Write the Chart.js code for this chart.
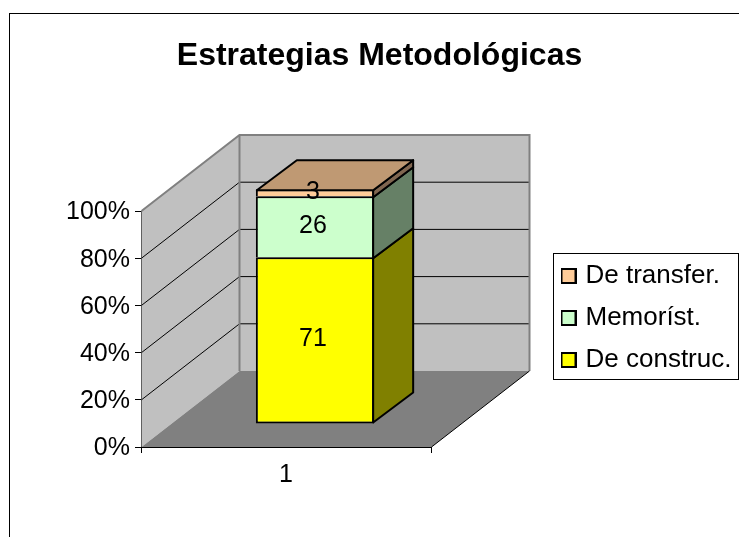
<!DOCTYPE html>
<html>
<head>
<meta charset="utf-8">
<script src="https://cdn.jsdelivr.net/npm/chart.js@4"></script>
<style>
  html, body { margin: 0; padding: 0; background: #fff; overflow: hidden; }
  #chart { display: block; }
</style>
</head>
<body>
<canvas id="chart" width="739" height="537"></canvas>
<script>
const categories = ['1'];
const seriesNames = ['De construc.', 'Memoríst.', 'De transfer.'];
const construc = [71];
const memorist = [26];
const transfer = [3];
const yTicks = [0, 20, 40, 60, 80, 100];

const frontColors = ['#FFFF00', '#CCFFCC', '#FFCC99'];
const sideColors = ['#808000', '#668066', '#806650'];
const topColor = '#BF9973';
const fontName = '"Liberation Sans", Arial, sans-serif';

// depth of the box, and where the bars sit inside it
const wallDx = 98, wallDy = -76;
const barDx = 29, barDy = -23, barSy = 0.995;
const barDepthX = 40, barDepthY = -30;

function poly(ctx, pts, fill, stroke, lw) {
  ctx.beginPath();
  pts.forEach((p, i) => i ? ctx.lineTo(p[0], p[1]) : ctx.moveTo(p[0], p[1]));
  ctx.closePath();
  if (fill) { ctx.fillStyle = fill; ctx.fill(); }
  if (stroke) { ctx.strokeStyle = stroke; ctx.lineWidth = lw; ctx.stroke(); }
}

function makeSwatch(color) {
  const c = document.createElement('canvas');
  c.width = 16;
  c.height = 16;
  const g = c.getContext('2d');
  g.fillStyle = color;
  g.fillRect(1, 1, 14, 14);
  g.strokeStyle = '#000';
  g.lineWidth = 2;
  g.strokeRect(1, 1, 14, 14);
  return c;
}

const box3d = {
  id: 'box3d',
  afterLayout(chart) {
    // title is centred on the whole frame, legend sits in its own box
    chart.titleBlock.left = 20;
    chart.titleBlock.right = 739;
    const lg = chart.legend;
    lg.left = 548.5;
    lg.right = 739;
    lg.top = 235;
    lg.bottom = 401;
    lg.adjustHitBoxes();
  },
  beforeDraw(chart) {
    const ctx = chart.ctx;
    ctx.save();
    ctx.strokeStyle = '#000';
    ctx.lineWidth = 1;
    ctx.strokeRect(9.5, 13.5, 760, 560);
    ctx.strokeRect(553.5, 253.5, 185, 126);
    ctx.restore();
  },
  beforeDatasetsDraw(chart) {
    const ctx = chart.ctx;
    const x = chart.scales.x, y = chart.scales.y;
    const l = x.left + 0.5, r = x.right + 0.5;
    const t = y.getPixelForValue(100), b = y.getPixelForValue(0);
    ctx.save();
    // side wall, back wall, floor
    poly(ctx, [[l, t], [l + wallDx, t + wallDy], [l + wallDx, b + wallDy], [l, b]], '#C0C0C0', null);
    poly(ctx, [[l + wallDx, t + wallDy], [r + wallDx, t + wallDy], [r + wallDx, b + wallDy], [l + wallDx, b + wallDy]], '#C0C0C0', null);
    poly(ctx, [[l, b], [r, b], [r + wallDx, b + wallDy], [l + wallDx, b + wallDy]], '#808080', null);
    // grid lines follow the walls
    ctx.strokeStyle = '#000';
    ctx.lineWidth = 1;
    yTicks.slice(1, -1).forEach(v => {
      const py = y.getPixelForValue(v);
      ctx.beginPath();
      ctx.moveTo(l, py);
      ctx.lineTo(l + wallDx, py + wallDy);
      ctx.lineTo(r + wallDx, py + wallDy);
      ctx.stroke();
    });
    // grey wall edges
    ctx.strokeStyle = '#808080';
    ctx.lineWidth = 2;
    ctx.beginPath();
    ctx.moveTo(l, t);
    ctx.lineTo(l + wallDx, t + wallDy);
    ctx.lineTo(r + wallDx, t + wallDy);
    ctx.lineTo(r + wallDx, b + wallDy);
    ctx.moveTo(l + wallDx, t + wallDy);
    ctx.lineTo(l + wallDx, b + wallDy);
    ctx.stroke();
    ctx.strokeStyle = '#000';
    ctx.lineWidth = 1;
    ctx.beginPath();
    ctx.moveTo(r, b);
    ctx.lineTo(r + wallDx, b + wallDy);
    ctx.stroke();
    ctx.restore();
  },
  beforeDatasetDraw(chart) {
    const ctx = chart.ctx;
    const base = chart.scales.y.getPixelForValue(0);
    ctx.save();
    ctx.translate(barDx, base + barDy);
    ctx.scale(1, barSy);
    ctx.translate(0, -base);
  },
  afterDatasetDraw(chart) {
    chart.ctx.restore();
  },
  afterDatasetsDraw(chart) {
    const ctx = chart.ctx;
    const base = chart.scales.y.getPixelForValue(0);
    const py = v => base + barDy + (v - base) * barSy;
    ctx.save();
    ctx.lineJoin = 'round';
    chart.data.datasets.forEach((ds, i) => {
      const bar = chart.getDatasetMeta(i).data[0];
      // 1px in from the outer edge, so the faces meet the middle of the bar's border
      const x0 = bar.x - bar.width / 2 + barDx + 1, x1 = bar.x + bar.width / 2 + barDx - 1;
      const yTop = py(bar.y) + 1, yBot = py(bar.base) + (i ? 1 : -1);
      poly(ctx, [[x1, yTop], [x1 + barDepthX, yTop + barDepthY], [x1 + barDepthX, yBot + barDepthY], [x1, yBot]], sideColors[i], '#000', 2);
      if (i === chart.data.datasets.length - 1) {
        poly(ctx, [[x0, yTop], [x0 + barDepthX, yTop + barDepthY], [x1 + barDepthX, yTop + barDepthY], [x1, yTop]], topColor, '#000', 2);
      }
    });
    // value labels
    ctx.fillStyle = '#000';
    ctx.font = '25px ' + fontName;
    ctx.textAlign = 'center';
    ctx.textBaseline = 'middle';
    chart.data.datasets.forEach((ds, i) => {
      const bar = chart.getDatasetMeta(i).data[0];
      ctx.fillText(String(ds.data[0]), bar.x + barDx - 2, (py(bar.y) + py(bar.base)) / 2 - 1);
    });
    ctx.restore();
  }
};

const datasets = [construc, memorist, transfer].map((values, i) => ({
  label: seriesNames[i],
  data: values,
  backgroundColor: frontColors[i],
  borderColor: '#000',
  // stacked bars share one line where they touch
  borderWidth: { top: 2, left: 2, right: 2, bottom: i ? 0 : 2 },
  borderSkipped: false,
  barPercentage: 0.408,
  categoryPercentage: 1,
  clip: false
}));

new Chart(document.getElementById('chart'), {
  type: 'bar',
  data: { labels: categories, datasets: datasets },
  plugins: [box3d],
  options: {
    responsive: false,
    animation: false,
    layout: { padding: { left: 0, right: 308, top: 0, bottom: 0 } },
    scales: {
      x: {
        stacked: true,
        grid: { drawOnChartArea: false, color: '#000', tickLength: 6 },
        border: { color: '#000' },
        ticks: { color: '#000', font: { family: fontName, size: 25 }, padding: 7 },
        afterFit(s) { s.height = 90; }
      },
      y: {
        stacked: true,
        min: 0,
        max: 100,
        grid: { drawOnChartArea: false, color: '#000', tickLength: 6 },
        border: { color: '#000' },
        ticks: {
          color: '#000',
          stepSize: 20,
          padding: 5,
          labelOffset: 1.5,
          font: { family: fontName, size: 25 },
          callback: v => v + '%'
        },
        afterFit(s) { s.width = 141; }
      }
    },
    plugins: {
      title: {
        display: true,
        text: 'Estrategias Metodológicas',
        color: '#000',
        font: { family: fontName, size: 32, weight: 'bold', lineHeight: 1 },
        padding: { top: 40, bottom: 139 }
      },
      tooltip: { enabled: false },
      legend: {
        position: 'chartArea',
        reverse: true,
        labels: {
          color: '#000',
          font: { family: fontName, size: 26 },
          padding: 16,
          usePointStyle: true,
          pointStyleWidth: 8,
          generateLabels(chart) {
            return Chart.defaults.plugins.legend.labels.generateLabels(chart).map(item => {
              item.pointStyle = makeSwatch(frontColors[item.datasetIndex]);
              return item;
            });
          }
        }
      }
    }
  }
});
</script>
</body>
</html>
